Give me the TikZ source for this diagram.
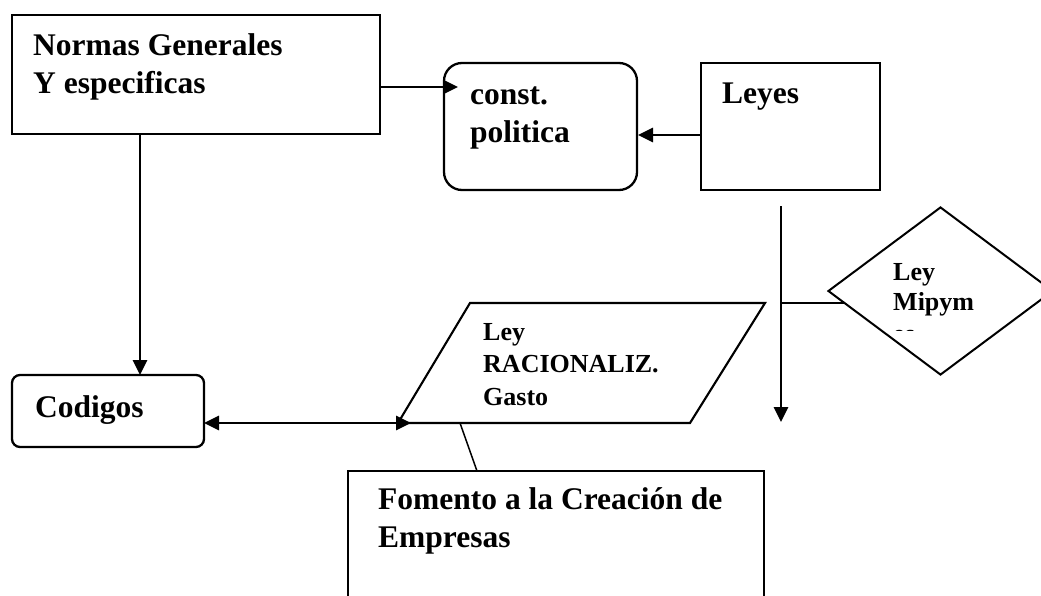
\documentclass[tikz,border=0pt]{standalone}
\usepackage{fontspec}
\setmainfont{Liberation Serif}
\usetikzlibrary{arrows.meta,shapes.geometric}
\begin{document}
\begin{tikzpicture}[x=1pt,y=-1pt,
  box/.style={draw,line width=2.3pt,inner sep=0pt,minimum width=#1},
  big/.style={inner sep=0pt,anchor=base west,align=left,font=\fontsize{31.5}{38}\selectfont\bfseries},
  small/.style={inner sep=0pt,anchor=base west,align=left,font=\fontsize{26}{32.5}\selectfont\bfseries},
  conn/.style={line width=2.8pt},
  arr/.style={conn,-{Triangle[length=15pt,width=14pt]}},
  darr/.style={conn,{Triangle[length=15pt,width=14pt]}-{Triangle[length=15pt,width=14pt]}}]
\useasboundingbox[fill=white] (0,0) rectangle (1041,595);
% shapes
\node[box=368,minimum height=119] (nor) at (196,74.5) {};
\node[box=193,minimum height=127,rounded corners=18pt] (cp) at (540.5,126.5) {};
\node[box=179,minimum height=127] (ley) at (790.5,126.5) {};
\node[box=192,minimum height=72,rounded corners=8pt] (cod) at (108,411) {};
\node[draw,diamond,line width=2pt,inner sep=0pt,minimum width=225,minimum height=168] (dia) at (940.5,291) {};
\coordinate (pbl) at (398,423);
\coordinate (ptl) at (470,303);
\coordinate (ptr) at (765,303);
\coordinate (pbr) at (690,423);
\draw[line width=2.1pt,line join=miter] (pbl) -- (ptl) -- (ptr) -- (pbr) -- cycle;
\draw[line width=2.3pt] (348,620) -- (348,471) -- (764,471) -- (764,620);
\coordinate (fom) at (477,471);
% texts
\node[big] (tnor) at (33,93) {Normas Generales\\Y especificas};
\node[big] (tcp) at (470,142) {const.\\politica};
\node[big] (tley) at (722,103) {Leyes};
\node[big] (tcod) at (35,417) {Codigos};
\node[small] (tpar) at (483,405) {Ley\\RACIONALIZ.\\Gasto};
\node[small,font=\fontsize{26}{30}\selectfont\bfseries] (tdia) at (893,310) {Ley\\Mipym};
\begin{scope}
\clip (880,322) rectangle (940,330);
\node[small] (tes) at (893,342) {es};
\end{scope}
\node[big] (tfom) at (378,547) {Fomento a la Creación de\\Empresas};
% connectors
\coordinate (a1) at (380,87);
\coordinate (a2) at (458,87);
\draw[arr] (a1) -- (a2);
\coordinate (b1) at (701,135);
\coordinate (b2) at (638,135);
\draw[arr] (b1) -- (b2);
\coordinate (c1) at (140,134);
\coordinate (c2) at (140,375);
\draw[arr] (c1) -- (c2);
\coordinate (d1) at (204,423);
\coordinate (d2) at (411,423);
\draw[darr] (d1) -- (d2);
\coordinate (vtop) at (781,206);
\coordinate (vbot) at (781,422);
\coordinate (vj) at (781,303);
\draw[arr] (vtop) -- (vbot);
\draw[conn] (vj) -- (845,303);
\coordinate (pb) at (460,423);
\draw[line width=1.5pt] (pb) -- (fom);
\end{tikzpicture}
\end{document}
